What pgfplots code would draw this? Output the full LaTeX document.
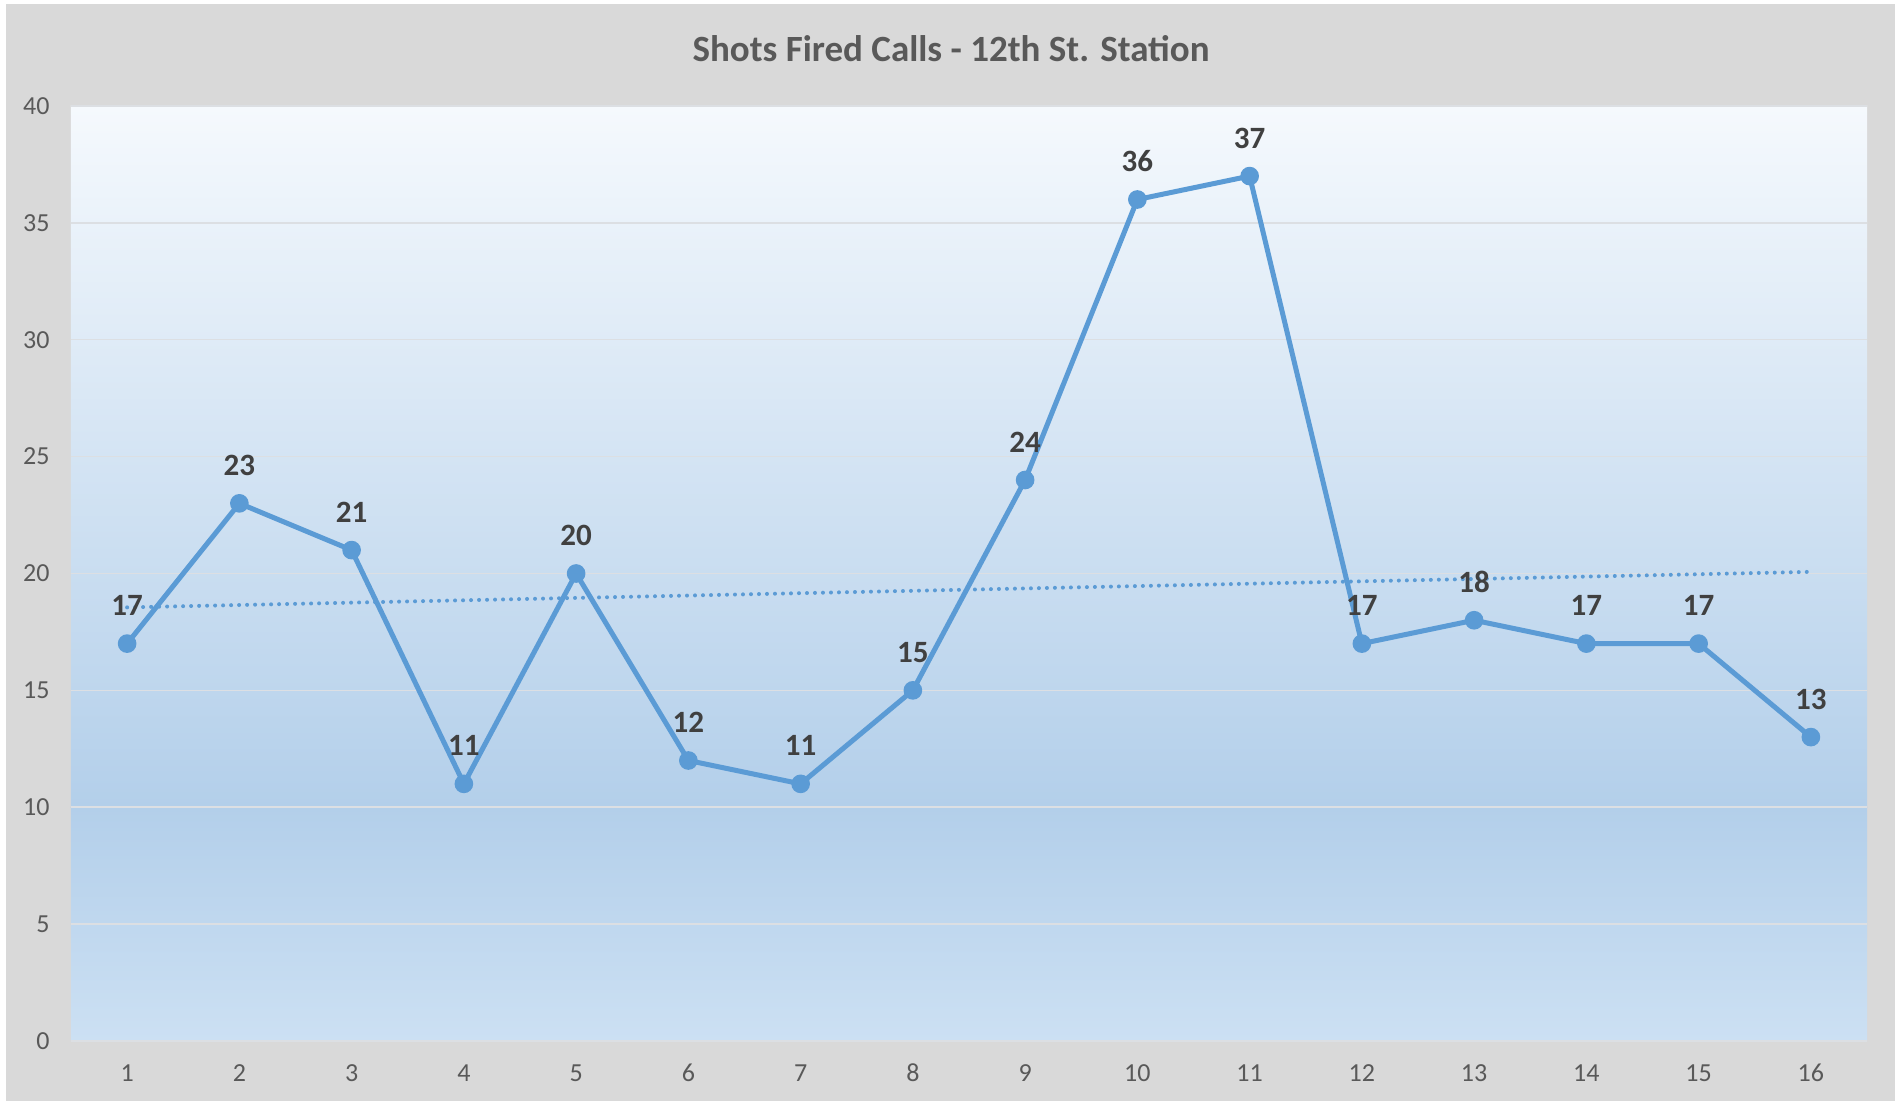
\documentclass[border=0pt]{standalone}
\usepackage{pgfplots}
\pgfplotsset{compat=1.18}
\usepackage{fontspec}
\setmainfont{Carlito}
\definecolor{outergray}{HTML}{D9D9D9}
\definecolor{gridgray}{HTML}{DCDFE3}
\definecolor{ticktext}{HTML}{595959}
\definecolor{labeltext}{HTML}{404040}
\definecolor{linec}{HTML}{5B9BD5}
\definecolor{bgtop}{HTML}{F5F9FD}
\definecolor{bgmid}{HTML}{B3CFEA}
\definecolor{bgbot}{HTML}{CCE0F3}
\begin{document}
\begin{tikzpicture}
% page and outer chart area
\fill[white] (-35.5pt,-30pt) rectangle (915.5pt,520.5pt);
\fill[outergray] (-32.5pt,-30pt) rectangle (912pt,518.5pt);
% plot area gradient
\fill[top color=bgtop,bottom color=bgmid] (0pt,116.875pt) rectangle (898pt,467.5pt);
\fill[top color=bgmid,bottom color=bgbot] (0pt,0pt) rectangle (898pt,116.9pt);
\node[font=\fontsize{18.5}{22}\selectfont\bfseries, text=ticktext] at (440pt,496pt) {Shots Fired Calls - 12th St. Station};
\begin{axis}[
  scale only axis,
  width=898pt, height=467.5pt,
  xmin=0.5, xmax=16.5,
  ymin=0, ymax=40,
  xtick={1,...,16},
  ytick={0,5,...,40},
  axis line style={draw=none},
  major tick style={draw=none},
  ymajorgrids,
  grid style={color=gridgray, line width=0.75pt},
  /pgf/number format/assume math mode=true,
  tick label style={font=\fontsize{13}{15}\selectfont, text=ticktext},
  yticklabel style={anchor=east, inner sep=0pt, xshift=-10.5pt},
  xticklabel style={anchor=center, inner sep=0pt, yshift=-16pt},
  clip=false,
]
\addplot[linec, line width=2.5pt, mark=*, mark size=3.4pt,
  mark options={solid, fill=linec, draw=none},
  nodes near coords,
  every node near coord/.append style={anchor=center, yshift=19pt,
    font=\fontsize{15.5}{18}\selectfont\bfseries, text=labeltext}]
coordinates {
(1,17) (2,23) (3,21) (4,11) (5,20) (6,12) (7,11) (8,15)
(9,24) (10,36) (11,37) (12,17) (13,18) (14,17) (15,17) (16,13)
};
% linear trendline
\addplot[linec, line width=2pt, line cap=round, dash pattern=on 0pt off 4pt]
coordinates {(1,18.55) (16,20.07)};
\end{axis}
\end{tikzpicture}
\end{document}
